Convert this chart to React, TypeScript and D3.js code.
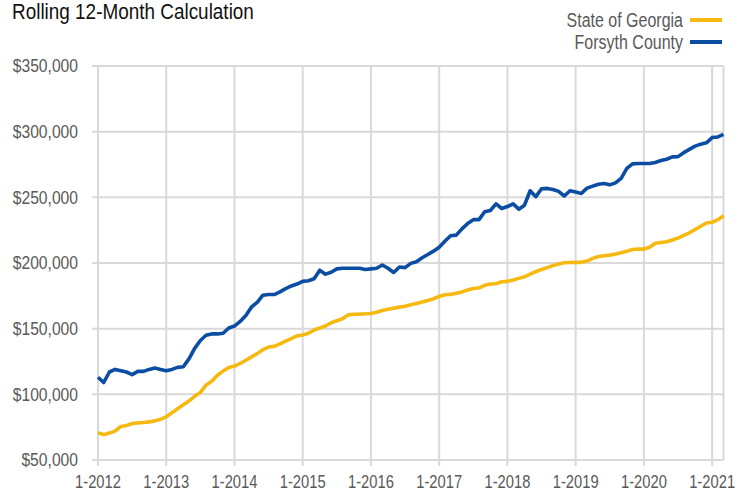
import React from "react";
import * as d3 from "d3";

const georgia = [
  70.8, 69.3, 70.5, 72, 75.5, 76.2, 77.8, 78.2, 78.5, 79, 79.8, 81,
  83, 86, 89, 92, 95, 98.5, 101.5, 107, 110, 114.5, 117.7, 120.5,
  121.5, 123.5, 126, 128.5, 131, 134, 136, 136.5, 138.5, 140.5, 142.5, 144.5,
  145.2, 146.5, 149, 150.5, 152, 154.5, 156, 157.5, 160.5, 161, 161.1, 161.3,
  161.6, 162.5, 163.8, 164.8, 165.6, 166.4, 167, 168.2, 169.2, 170.3, 171.5, 172.8,
  174.5, 175.8, 176.1, 177, 178, 179.4, 180.6, 181, 183, 184, 184.2, 185.7,
  186, 187, 188.3, 189.5, 191.5, 193.5, 195, 196.5, 198, 199.3, 200.2, 200.4,
  200.5, 200.5, 201.5, 203.5, 205, 205.5, 206, 206.8, 207.8, 209, 210.3, 210.6,
  210.6, 212, 215, 215.6, 216.2, 217.5, 219, 221, 223, 225.5, 228, 230.5,
  231, 233, 236,
].map((v) => v * 1000);

const forsyth = [
  113, 109, 117, 119, 118, 117, 115, 117.5, 117.5, 119, 120, 119,
  118, 119, 120.5, 121, 127, 135, 141, 145, 146, 146, 146.5, 150.5,
  152, 155.5, 160, 166.5, 170, 175.5, 176, 176, 178, 180.5, 182.5, 184,
  186, 186.5, 188, 194.5, 191.5, 193, 195.5, 196, 196, 196, 196, 195,
  195.5, 196, 198.5, 196, 192.8, 197, 196.5, 199.7, 201, 204, 206.5, 209,
  212, 216.5, 220.7, 221.2, 226, 230, 233, 233, 239, 240, 245, 241.5,
  243, 245, 241, 244, 255, 250.5, 256.5, 256.8, 256, 254.5, 251, 255,
  254, 253, 257, 258.5, 260, 260.5, 259.5, 261, 264.5, 272, 275.5, 275.8,
  275.8, 275.8, 276.5, 278, 279, 280.8, 281, 284, 286.5, 289, 290.5, 291.5,
  295.5, 296, 298,
].map((v) => v * 1000);

const yTicks = [50000, 100000, 150000, 200000, 250000, 300000, 350000];
const xTickIdx = [0, 12, 24, 36, 48, 60, 72, 84, 96, 108];
const xTickLabels = ["1-2012", "1-2013", "1-2014", "1-2015", "1-2016", "1-2017", "1-2018", "1-2019", "1-2020", "1-2021"];

const seriesNames = ["State of Georgia", "Forsyth County"];
const seriesColors = ["#F5B90F", "#0A4DA2"];

function T(props: { x: number; y: number; sx: number; size: number; anchor?: string; fill: string; children: React.ReactNode; dy?: string }) {
  return (
    <text
      transform={`translate(${props.x},${props.y}) scale(${props.sx},1)`}
      dy={props.dy}
      textAnchor={props.anchor || "start"}
      fontSize={props.size}
      fill={props.fill}
    >
      {props.children}
    </text>
  );
}

export default function App() {
  const W = 748, H = 493;
  const left = 98, right = 723.5, top = 66, bottom = 460;
  const x = d3.scaleLinear().domain([0, forsyth.length - 1]).range([left, right]);
  const y = d3.scaleLinear().domain([50000, 350000]).range([bottom, top]);
  const line = d3.line<number>().x((_, i) => x(i)).y((d) => y(d));
  const fmt = (v: number) => "$" + d3.format(",")(v);
  const font = "'Liberation Sans', Arial, sans-serif";
  const grid = "#d9d9d9";
  const txt = "#595959";
  return (
    <svg width={W} height={H} style={{ position: "absolute", left: 0, top: 0 }} fontFamily={font}>
      <rect width={W} height={H} fill="#fff" />
      {yTicks.map((t) => (
        <line key={"h" + t} x1={left - 6} x2={right} y1={y(t)} y2={y(t)} stroke={grid} strokeWidth={2} />
      ))}
      {xTickIdx.map((i) => (
        <line key={"v" + i} x1={x(i)} x2={x(i)} y1={top} y2={bottom + 6} stroke={grid} strokeWidth={2} />
      ))}
      <line x1={right} x2={right} y1={top} y2={bottom} stroke={grid} strokeWidth={2} />
      {yTicks.map((t) => (
        <T key={"yl" + t} x={78} y={y(t)} dy="0.35em" anchor="end" size={18} sx={0.87} fill={txt}>
          {fmt(t)}
        </T>
      ))}
      {xTickIdx.map((i, k) => (
        <T key={"xl" + i} x={x(i)} y={488} anchor="middle" size={18} sx={0.82} fill={txt}>
          {xTickLabels[k]}
        </T>
      ))}
      <path d={line(georgia) || ""} fill="none" stroke={seriesColors[0]} strokeWidth={3.6} strokeLinejoin="round" />
      <path d={line(forsyth) || ""} fill="none" stroke={seriesColors[1]} strokeWidth={3.6} strokeLinejoin="round" />
      <T x={12} y={19} size={21.5} sx={0.88} fill="#111">Rolling 12-Month Calculation</T>
      {seriesNames.map((n, k) => (
        <g key={n}>
          <T x={683} y={20 + k * 22} dy="0.35em" anchor="end" size={19.5} sx={0.82} fill={txt}>{n}</T>
          <line x1={690} x2={722} y1={20 + k * 22} y2={20 + k * 22} stroke={seriesColors[k]} strokeWidth={4} />
        </g>
      ))}
    </svg>
  );
}
